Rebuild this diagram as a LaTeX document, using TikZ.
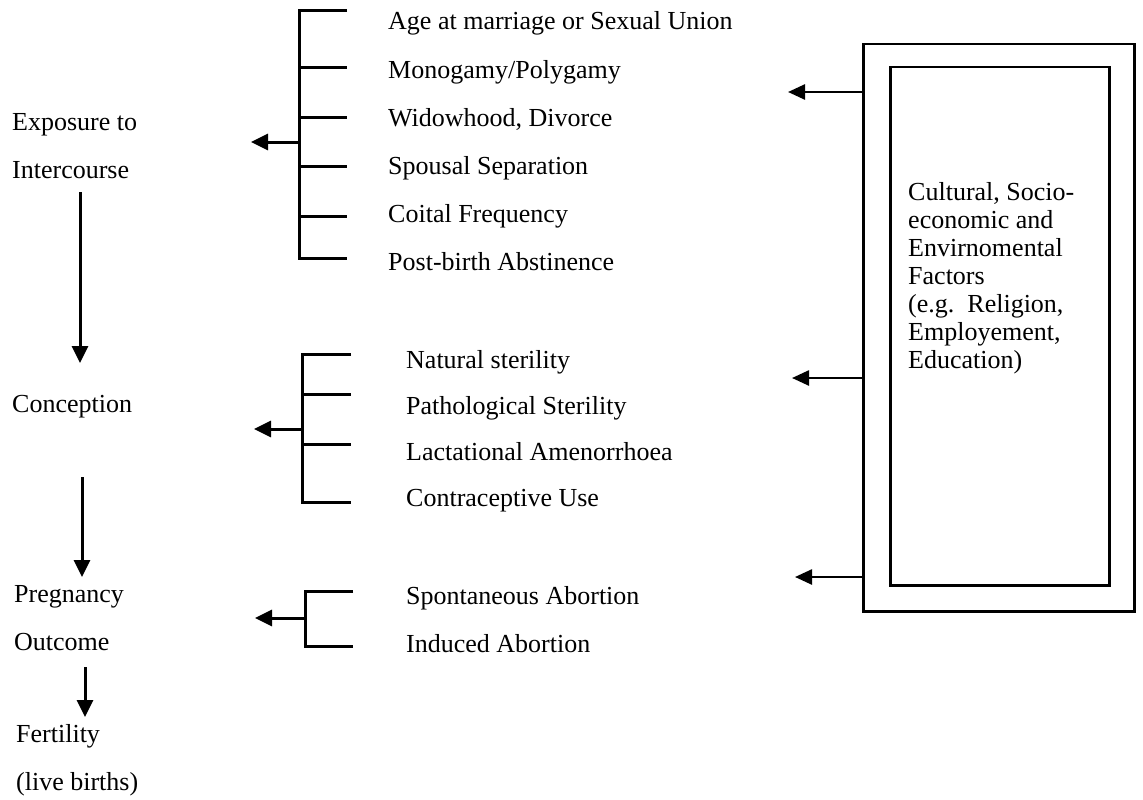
\documentclass[tikz,border=0pt]{standalone}
\usepackage{fontspec}
\setmainfont{Liberation Serif}
\usetikzlibrary{arrows.meta}
\begin{document}
\begin{tikzpicture}[x=1pt,y=-1pt,
  lbl/.style={anchor=base west, inner sep=0pt, font=\fontsize{26}{28}\selectfont},
  ln/.style={line width=3pt},
  arr/.style={line width=3pt, -{Triangle[length=17pt,width=16pt]}},
  boxarr/.style={line width=2.5pt, -{Triangle[length=17pt,width=15pt]}},
  boxst/.style={draw, line width=2.5pt, anchor=north west, inner sep=0pt}]
\useasboundingbox (0,0) rectangle (1143,800);

% left chain
\node[lbl] (expo) at (12,130) {Exposure to};
\node[lbl] (inter) at (12,178) {Intercourse};
\node[lbl] (conc) at (12,412) {Conception};
\node[lbl] (preg) at (14,602) {Pregnancy};
\node[lbl] (outc) at (14,650) {Outcome};
\node[lbl] (fert) at (16,742) {Fertility};
\node[lbl] (live) at (16,790) {(live births)};

\coordinate (v1s) at (80,192); \coordinate (v1e) at (80,363);
\coordinate (v2s) at (82,477); \coordinate (v2e) at (82,577);
\coordinate (v3s) at (85,667); \coordinate (v3e) at (85,717);
\draw[arr] (v1s) -- (v1e);
\draw[arr] (v2s) -- (v2e);
\draw[arr] (v3s) -- (v3e);

% bracket 1
\node[lbl] (a1) at (388,30) {Age at marriage or Sexual Union};
\node[lbl] (a2) at (388,78) {Monogamy/Polygamy};
\node[lbl] (a3) at (388,126) {Widowhood, Divorce};
\node[lbl] (a4) at (388,174) {Spousal Separation};
\node[lbl] (a5) at (388,222) {Coital Frequency};
\node[lbl] (a6) at (388,270) {Post-birth Abstinence};
\coordinate (b1t) at (299,11); \coordinate (b1b) at (299,258);
\draw[ln] (347,11) -- (b1t) -- (b1b) -- (347,258);
\foreach \y in {68,117,166,216} \draw[ln] (299,\y) -- (347,\y);
\coordinate (b1a) at (299,142); \coordinate (b1tip) at (251,142);
\draw[arr] (b1a) -- (b1tip);

% bracket 2
\node[lbl] (c1) at (406,368) {Natural sterility};
\node[lbl] (c2) at (406,414) {Pathological Sterility};
\node[lbl] (c3) at (406,460) {Lactational Amenorrhoea};
\node[lbl] (c4) at (406,506) {Contraceptive Use};
\coordinate (b2t) at (302,354); \coordinate (b2b) at (302,502);
\draw[ln] (351,354) -- (b2t) -- (b2b) -- (351,502);
\foreach \y in {394,444} \draw[ln] (302,\y) -- (351,\y);
\coordinate (b2a) at (302,429); \coordinate (b2tip) at (254,429);
\draw[arr] (b2a) -- (b2tip);

% bracket 3
\node[lbl] (d1) at (406,604) {Spontaneous Abortion};
\node[lbl] (d2) at (406,652) {Induced Abortion};
\coordinate (b3t) at (305,591); \coordinate (b3b) at (305,646);
\draw[ln] (353,591) -- (b3t) -- (b3b) -- (353,646);
\coordinate (b3a) at (305,618); \coordinate (b3tip) at (255,618);
\draw[arr] (b3a) -- (b3tip);

% factor box
\node[boxst, minimum width=271pt, minimum height=567pt] (outer) at (862,43) {};
\node[boxst, minimum width=219pt, minimum height=518pt] (inner) at (889,66) {};
\node[lbl, anchor=base west, align=left, font=\fontsize{26}{28}\selectfont] (fact) at (908,368)
  {Cultural, Socio-\\economic and\\Envirnomental\\Factors\\(e.g.\hspace{0.5em}Religion,\\Employement,\\Education)};
\coordinate (e1) at (788,92); \coordinate (e2) at (792,378); \coordinate (e3) at (795,577);
\draw[boxarr] (outer.west |- e1) -- (e1);
\draw[boxarr] (outer.west |- e2) -- (e2);
\draw[boxarr] (outer.west |- e3) -- (e3);
\end{tikzpicture}
\end{document}
